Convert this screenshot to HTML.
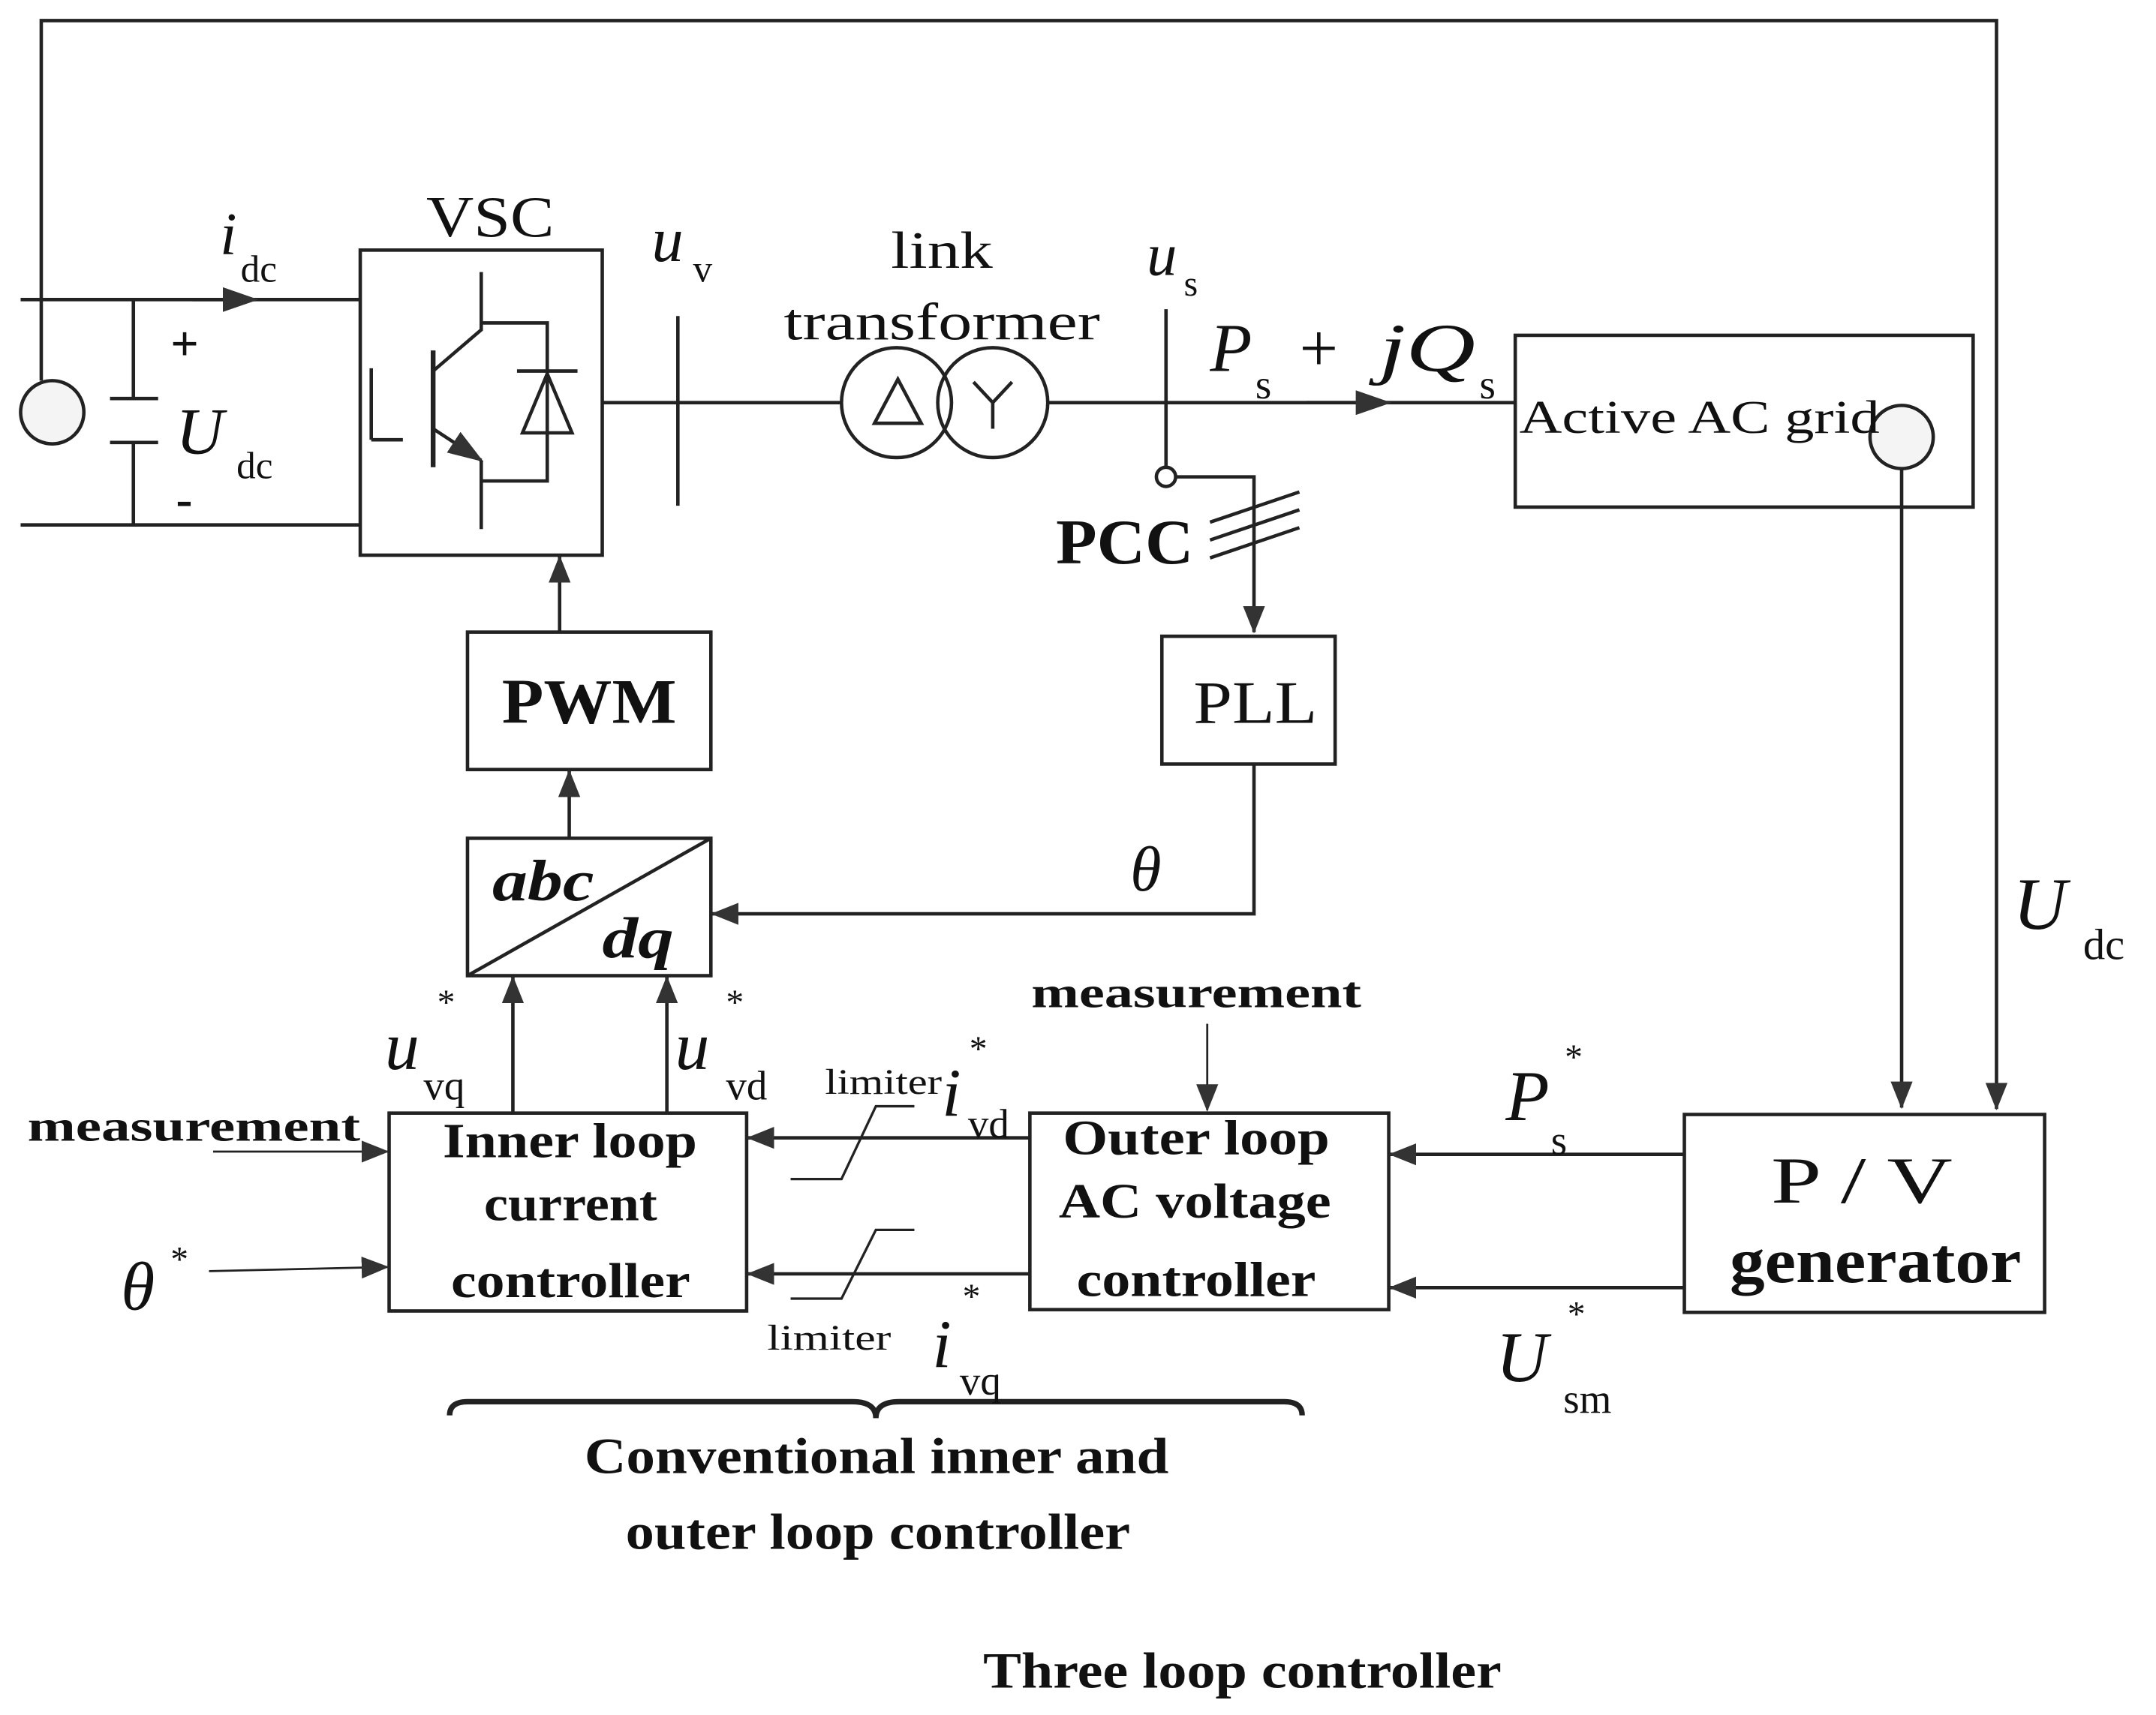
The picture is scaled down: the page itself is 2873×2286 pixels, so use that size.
<!DOCTYPE html>
<html><head><meta charset="utf-8">
<style>
html,body{margin:0;padding:0;background:#fff;}
svg{display:block;}
text{font-family:"Liberation Serif",serif;fill:#111;}
.b{font-weight:bold;}
.i{font-style:italic;}
</style></head>
<body>
<svg width="2873" height="2286" viewBox="0 0 1568 1248" preserveAspectRatio="none" xmlns="http://www.w3.org/2000/svg">
<defs>
<marker id="A" markerWidth="26" markerHeight="18" refX="24" refY="9" orient="auto" markerUnits="userSpaceOnUse" viewBox="0 0 26 18">
<path d="M0,0 L26,9 L0,18 z" fill="#333"/></marker>
<marker id="m" markerWidth="20" markerHeight="16" refX="19" refY="8" orient="auto" markerUnits="userSpaceOnUse" viewBox="0 0 20 16">
<path d="M0,0 L20,8 L0,16 z" fill="#333"/></marker>
</defs>
<g stroke="#222" stroke-width="2.5" fill="none">
<polyline points="30,277 30,15 1452,15 1452,807" marker-end="url(#m)"/>
<circle cx="38" cy="300" r="23" fill="#f4f4f4"/>
<line x1="15" y1="218" x2="262" y2="218"/>
<line x1="15" y1="382" x2="262" y2="382"/>
<line x1="140" y1="218" x2="186" y2="218" marker-end="url(#A)"/>
<polyline points="97,218 97,290"/><line x1="80" y1="290" x2="115" y2="290"/>
<line x1="80" y1="322" x2="115" y2="322"/><polyline points="97,322 97,382"/>
<rect x="262" y="182" width="176" height="222"/>
<line x1="270" y1="268" x2="270" y2="320"/><line x1="270" y1="320" x2="293" y2="320"/>
<line x1="315" y1="255" x2="315" y2="340" stroke-width="3.5"/>
<polyline points="315,270 350,240 350,198"/>
<line x1="315" y1="312" x2="350" y2="335" marker-end="url(#A)"/>
<polyline points="350,335 350,385"/>
<polyline points="350,235 398,235 398,350 350,350"/>
<polygon points="380,315 416,315 398,272" />
<line x1="376" y1="270" x2="420" y2="270"/>
<line x1="438" y1="293" x2="612" y2="293"/>
<line x1="493" y1="230" x2="493" y2="368"/>
<circle cx="652" cy="293" r="40"/><circle cx="722" cy="293" r="40"/>
<polygon points="636,308 670,308 653,276"/>
<polyline points="708,278 722,293 736,278"/><line x1="722" y1="293" x2="722" y2="312"/>
<line x1="762" y1="293" x2="1102" y2="293"/>
<line x1="950" y1="293" x2="1010" y2="293" marker-end="url(#A)"/>
<line x1="848" y1="225" x2="848" y2="340"/>
<circle cx="848" cy="347" r="7" fill="#fff"/>
<polyline points="855,347 912,347 912,460" marker-end="url(#m)"/>
<line x1="880" y1="380" x2="945" y2="358"/>
<line x1="880" y1="393" x2="945" y2="371"/>
<line x1="880" y1="406" x2="945" y2="384"/>
<rect x="1102" y="244" width="333" height="125"/>
<circle cx="1383" cy="318" r="23" fill="#f4f4f4"/>
<line x1="1383" y1="341" x2="1383" y2="806" marker-end="url(#m)"/>
<rect x="340" y="460" width="177" height="100"/>
<line x1="407" y1="460" x2="407" y2="405" marker-end="url(#m)"/>
<rect x="845" y="463" width="126" height="93"/>
<polyline points="912,556 912,665 518,665" marker-end="url(#m)"/>
<rect x="340" y="610" width="177" height="100"/>
<line x1="340" y1="710" x2="517" y2="610"/>
<line x1="414" y1="610" x2="414" y2="561" marker-end="url(#m)"/>
<rect x="283" y="810" width="260" height="144"/>
<line x1="373" y1="810" x2="373" y2="711" marker-end="url(#m)"/>
<line x1="485" y1="810" x2="485" y2="711" marker-end="url(#m)"/>
<line x1="155" y1="838" x2="282" y2="838" stroke-width="1.5" marker-end="url(#m)"/>
<line x1="152" y1="925" x2="282" y2="922" stroke-width="1.5" marker-end="url(#m)"/>
<rect x="749" y="810" width="261" height="143"/>
<line x1="878" y1="745" x2="878" y2="808" stroke-width="1.5" marker-end="url(#m)"/>
<line x1="749" y1="828" x2="544" y2="828" marker-end="url(#m)"/>
<line x1="749" y1="927" x2="544" y2="927" marker-end="url(#m)"/>
<polyline points="575,858 612,858 637,805 665,805" stroke-width="1.8"/>
<polyline points="575,945 612,945 637,895 665,895" stroke-width="1.8"/>
<rect x="1225" y="811" width="262" height="144"/>
<line x1="1225" y1="840" x2="1011" y2="840" marker-end="url(#m)"/>
<line x1="1225" y1="937" x2="1011" y2="937" marker-end="url(#m)"/>
<path d="M327,1030 Q327,1020 340,1020 L620,1020 Q637,1020 637,1032 Q637,1020 654,1020 L934,1020 Q947,1020 947,1030" stroke-width="4"/>
</g>
<g>
<text x="160" y="185" font-size="44" class="i">i</text><text x="175" y="205" font-size="28">dc</text>
<text x="124" y="262" font-size="36" class="b">+</text>
<text x="128" y="330" font-size="48" class="i">U</text><text x="172" y="348" font-size="28">dc</text>
<text x="128" y="375" font-size="36" class="b">-</text>
<text x="310" y="172" font-size="42" textLength="93" lengthAdjust="spacingAndGlyphs">VSC</text>
<text x="474" y="190" font-size="46" class="i">u</text><text x="504" y="205" font-size="28">v</text>
<text x="648" y="195" font-size="38" textLength="74" lengthAdjust="spacingAndGlyphs">link</text>
<text x="570" y="247" font-size="38" textLength="230" lengthAdjust="spacingAndGlyphs">transformer</text>
<text x="834" y="200" font-size="44" class="i">u</text><text x="861" y="215" font-size="26">s</text>
<text x="880" y="270" font-size="50" class="i">P</text><text x="913" y="290" font-size="30">s</text>
<text x="945" y="270" font-size="50">+</text><text x="1003" y="270" font-size="50" class="i" textLength="70" lengthAdjust="spacingAndGlyphs">jQ</text><text x="1076" y="290" font-size="30">s</text>
<text x="768" y="410" font-size="46" class="b" textLength="100" lengthAdjust="spacingAndGlyphs">PCC</text>
<text x="1105" y="315" font-size="34" textLength="262" lengthAdjust="spacingAndGlyphs">Active AC grid</text>
<text x="365" y="526" font-size="46" class="b" textLength="127" lengthAdjust="spacingAndGlyphs">PWM</text>
<text x="868" y="526" font-size="44" textLength="90" lengthAdjust="spacingAndGlyphs">PLL</text>
<text x="822" y="648" font-size="46" class="i">θ</text>
<text x="358" y="655" font-size="42" class="b i" textLength="74" lengthAdjust="spacingAndGlyphs">abc</text>
<text x="438" y="697" font-size="42" class="b i" textLength="52" lengthAdjust="spacingAndGlyphs">dq</text>
<text x="280" y="778" font-size="50" class="i">u</text><text x="318" y="738" font-size="26">*</text><text x="308" y="800" font-size="30">vq</text>
<text x="491" y="778" font-size="50" class="i">u</text><text x="528" y="738" font-size="26">*</text><text x="528" y="800" font-size="30">vd</text>
<text x="20" y="830" font-size="32" class="b" textLength="242" lengthAdjust="spacingAndGlyphs">measurement</text>
<text x="88" y="953" font-size="50" class="i">θ</text><text x="124" y="925" font-size="26">*</text>
<text x="322" y="842" font-size="36" class="b" textLength="185" lengthAdjust="spacingAndGlyphs">Inner loop</text>
<text x="352" y="888" font-size="36" class="b" textLength="126" lengthAdjust="spacingAndGlyphs">current</text>
<text x="328" y="944" font-size="36" class="b" textLength="174" lengthAdjust="spacingAndGlyphs">controller</text>
<text x="750" y="733" font-size="32" class="b" textLength="240" lengthAdjust="spacingAndGlyphs">measurement</text>
<text x="600" y="796" font-size="26" textLength="85" lengthAdjust="spacingAndGlyphs">limiter</text>
<text x="558" y="982" font-size="26" textLength="90" lengthAdjust="spacingAndGlyphs">limiter</text>
<text x="685" y="812" font-size="50" class="i">i</text><text x="705" y="772" font-size="26">*</text><text x="704" y="828" font-size="30">vd</text>
<text x="678" y="995" font-size="50" class="i">i</text><text x="700" y="952" font-size="26">*</text><text x="698" y="1015" font-size="30">vq</text>
<text x="773" y="840" font-size="36" class="b" textLength="194" lengthAdjust="spacingAndGlyphs">Outer loop</text>
<text x="770" y="886" font-size="36" class="b" textLength="198" lengthAdjust="spacingAndGlyphs">AC voltage</text>
<text x="783" y="943" font-size="36" class="b" textLength="174" lengthAdjust="spacingAndGlyphs">controller</text>
<text x="1095" y="815" font-size="52" class="i">P</text><text x="1138" y="778" font-size="26">*</text><text x="1128" y="840" font-size="30">s</text>
<text x="1088" y="1005" font-size="52" class="i">U</text><text x="1140" y="965" font-size="26">*</text><text x="1137" y="1028" font-size="30">sm</text>
<text x="1288" y="875" font-size="48" textLength="132" lengthAdjust="spacingAndGlyphs">P  /  V</text>
<text x="1258" y="933" font-size="46" class="b" textLength="212" lengthAdjust="spacingAndGlyphs">generator</text>
<text x="1464" y="676" font-size="54" class="i">U</text><text x="1515" y="698" font-size="32">dc</text>
<text x="425" y="1072" font-size="37" class="b" textLength="425" lengthAdjust="spacingAndGlyphs">Conventional inner and</text>
<text x="455" y="1127" font-size="37" class="b" textLength="367" lengthAdjust="spacingAndGlyphs">outer loop controller</text>
<text x="715" y="1228" font-size="37" class="b" textLength="377" lengthAdjust="spacingAndGlyphs">Three loop controller</text>
</g>
</svg>
</body></html>
